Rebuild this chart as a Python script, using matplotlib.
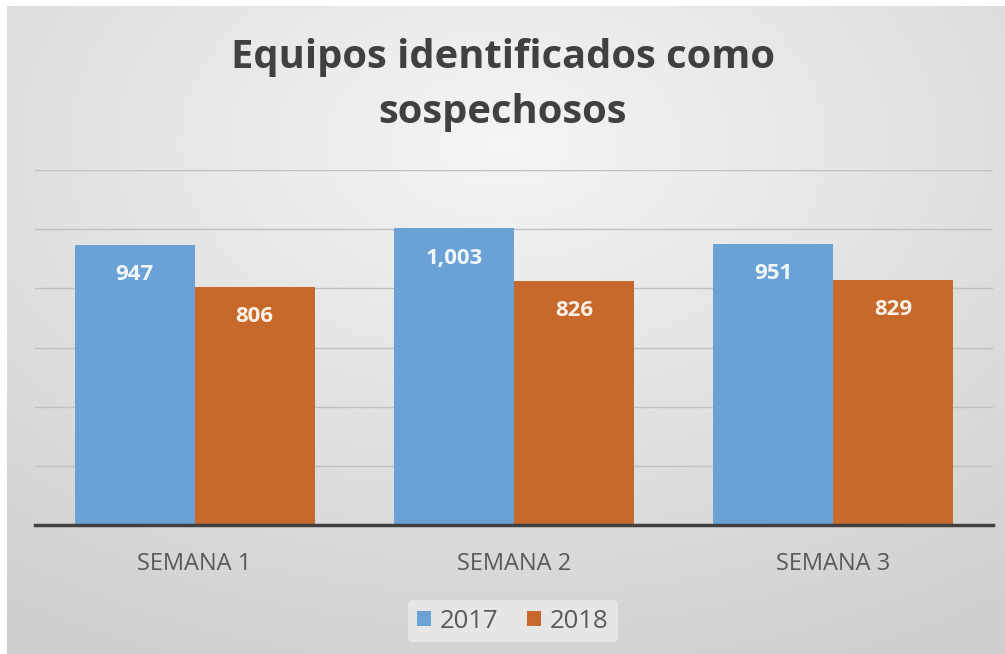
import numpy as np
import matplotlib
matplotlib.use("Agg")
import matplotlib.pyplot as plt

categories = ["SEMANA 1", "SEMANA 2", "SEMANA 3"]
series_names = ["2017", "2018"]
values_2017 = [947, 1003, 951]
values_2018 = [806, 826, 829]
title = "Equipos identificados como\nsospechosos"

FONT = "Open Sans"
blue = "#6aa2d6"
orange = "#c8692c"
W, H = 1005, 654
fig = plt.figure(figsize=(W / 100, H / 100), dpi=100, facecolor="white")

# background radial gradient (chart area fill), thin white border on top/left only
bh, bwid = H - 6, W - 7
yy, xx = np.mgrid[0:bh, 0:bwid]
r = np.sqrt(((xx + 7 - W * 0.5) / W) ** 2 + ((yy + 6 - H * 0.22) / H) ** 2)
g = np.clip(0.96 - 0.17 * r, 0.81, 0.965)
fig.figimage(np.dstack([g, g, g]), xo=7, yo=0, origin="upper", zorder=0)

ax = fig.add_axes([35 / W, 1 - 525 / H, (993 - 35) / W, (525 - 170) / H], zorder=1)
ax.patch.set_alpha(0)
x = np.arange(len(categories))
bw = 0.376
b1 = ax.bar(x - bw / 2, values_2017, bw, color=blue, label=series_names[0], zorder=2)
b2 = ax.bar(x + bw / 2, values_2018, bw, color=orange, label=series_names[1], zorder=2)
ax.set_xlim(-0.5, 2.5)
ax.set_ylim(0, 1200)
ax.set_yticks(np.arange(0, 1201, 200))
ax.yaxis.grid(True, color="#c0c0c0", lw=1)
ax.set_axisbelow(True)
ax.tick_params(axis="y", left=False, labelleft=False)
ax.tick_params(axis="x", bottom=False, pad=16, labelsize=17, labelcolor="#595959")
ax.set_xticks(x)
ax.set_xticklabels(categories, fontfamily=FONT)
for s in ["top", "right", "left"]:
    ax.spines[s].set_visible(False)
ax.spines["bottom"].set_color("#404040")
ax.spines["bottom"].set_linewidth(2.5)

for bars, col in [(b1, "#f2f7fc"), (b2, "#fdf0e6")]:
    for b in bars:
        v = b.get_height()
        ax.annotate(f"{int(v):,}", (b.get_x() + b.get_width() / 2, v),
                    xytext=(0, -21.5), textcoords="offset points", ha="center", va="center",
                    color=col, fontsize=16, fontweight="bold", fontfamily=FONT, zorder=3)

fig.text(0.5, 1 - 85 / H, title, ha="center", va="center", fontsize=28.7,
         fontweight="bold", fontfamily=FONT, color="#404040", linespacing=1.55)

leg = fig.legend(loc="center", bbox_to_anchor=(513 / W, 1 - 621 / H), ncol=2, frameon=True,
                 prop={"family": FONT, "size": 18.5}, handlelength=0.55, handleheight=0.55,
                 handletextpad=0.35, columnspacing=1.1, borderpad=0.35)
leg.get_frame().set_facecolor("#ebebeb")
leg.get_frame().set_edgecolor("none")
leg.get_frame().set_alpha(0.8)
for t in leg.get_texts():
    t.set_color("#595959")

fig.savefig("out.png", dpi=100)
